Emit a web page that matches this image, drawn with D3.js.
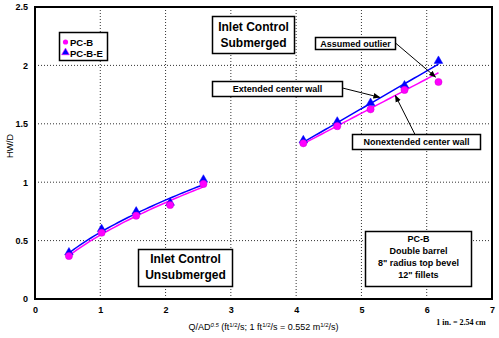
<!DOCTYPE html>
<html>
<head>
<meta charset="utf-8">
<script src="https://cdn.jsdelivr.net/npm/d3@7"></script>
<style>
  html, body { margin: 0; padding: 0; background: #fff; }
  svg { display: block; font-family: "Liberation Sans", Arial, sans-serif; }
</style>
</head>
<body>
<svg id="chart" width="499" height="338"></svg>
<script>
// Inlet control, unsubmerged range
const unsubQ   = [0.52, 1.02, 1.55, 2.07, 2.58];
const unsubPCB  = [0.368, 0.567, 0.713, 0.805, 0.985];
const unsubPCBE = [0.39, 0.59, 0.74, 0.815, 1.013];

// Inlet control, submerged range
const subQ     = [4.11, 4.63, 5.14, 5.66, 6.18];
const subPCB   = [1.333, 1.48, 1.624, 1.79, 1.858];   // last point is the assumed outlier
const subPCBE  = [1.35, 1.51, 1.67, 1.82, 2.03];

const xTicks = [0, 1, 2, 3, 4, 5, 6, 7];
const yTicks = [0, 0.5, 1, 1.5, 2, 2.5];
const seriesNames = ["PC-B", "PC-B-E"];

const MAGENTA = "#ff00ff", BLUE = "#0000ff";

const svg = d3.select("#chart");
const L = 35, R = 492, T = 7, B = 299;
const x = d3.scaleLinear().domain([0, 7]).range([L, R]);
const y = d3.scaleLinear().domain([0, 2.5]).range([B, T]);

// grid
const grid = svg.append("g").attr("stroke", "#333").attr("stroke-width", 1)
  .attr("stroke-dasharray", "1,2");
xTicks.slice(1, -1).forEach(v => grid.append("line")
  .attr("x1", x(v)).attr("x2", x(v)).attr("y1", T).attr("y2", B));
yTicks.slice(1, -1).forEach(v => grid.append("line")
  .attr("x1", L).attr("x2", R).attr("y1", y(v)).attr("y2", y(v)));

// axes
const xAxis = d3.axisBottom(x).tickValues(xTicks).tickSize(0).tickPadding(8)
  .tickFormat(d3.format("d"));
const yAxis = d3.axisLeft(y).tickValues(yTicks).tickSize(0).tickPadding(7)
  .tickFormat(d => String(d));
const gx = svg.append("g").attr("transform", `translate(0,${B})`).call(xAxis);
const gy = svg.append("g").attr("transform", `translate(${L},0)`).call(yAxis);
[gx, gy].forEach(g => {
  g.select(".domain").remove();
  g.selectAll("text").attr("font-size", 9).attr("font-weight", "bold")
    .attr("fill", "#000").attr("font-family", "Liberation Sans, Arial, sans-serif");
});

// plot frame
svg.append("rect").attr("x", L).attr("y", T).attr("width", R - L).attr("height", B - T)
  .attr("fill", "none").attr("stroke", "#000").attr("stroke-width", 2);

// trend lines: power fit for unsubmerged, linear fit for submerged
function powerFit(xs, ys) {
  const lx = xs.map(Math.log), ly = ys.map(Math.log);
  const f = linearFit(lx, ly);
  return v => Math.exp(f.a + f.b * Math.log(v));
}
function linearFit(xs, ys) {
  const n = xs.length, mx = d3.mean(xs), my = d3.mean(ys);
  let sxy = 0, sxx = 0;
  for (let i = 0; i < n; i++) { sxy += (xs[i] - mx) * (ys[i] - my); sxx += (xs[i] - mx) ** 2; }
  const b = sxy / sxx;
  const fn = v => my - b * mx + b * v;
  fn.a = my - b * mx; fn.b = b;
  return fn;
}
function drawFit(fn, x0, x1, color) {
  const pts = d3.range(0, 41).map(i => x0 + (x1 - x0) * i / 40);
  svg.append("path")
    .attr("d", d3.line().x(v => x(v)).y(v => y(fn(v)))(pts))
    .attr("fill", "none").attr("stroke", color).attr("stroke-width", 1.5);
}
drawFit(powerFit(unsubQ, unsubPCBE), unsubQ[0] - 0.03, unsubQ[4], BLUE);
drawFit(powerFit(unsubQ, unsubPCB), unsubQ[0] - 0.03, unsubQ[4], MAGENTA);
drawFit(linearFit(subQ, subPCBE), subQ[0] - 0.03, subQ[4], BLUE);
drawFit(linearFit(subQ.slice(0, 4), subPCB.slice(0, 4)), subQ[0] - 0.03, subQ[4], MAGENTA);

// markers
const tri = d3.symbol().type(d3.symbolTriangle).size(32);
function triangles(xs, ys) {
  xs.forEach((v, i) => svg.append("path").attr("d", tri())
    .attr("transform", `translate(${x(v)},${y(ys[i]) - 1})`)
    .attr("fill", BLUE).attr("stroke", BLUE).attr("stroke-width", 0.5));
}
function circles(xs, ys) {
  xs.forEach((v, i) => svg.append("circle").attr("cx", x(v)).attr("cy", y(ys[i]))
    .attr("r", 3.6).attr("fill", MAGENTA).attr("stroke", "#d000d0").attr("stroke-width", 0.5));
}
triangles(unsubQ, unsubPCBE);
triangles(subQ, subPCBE);
circles(unsubQ, unsubPCB);
circles(subQ, subPCB);

// legend
const lg = svg.append("g");
lg.append("rect").attr("x", 59.5).attr("y", 32.5).attr("width", 48).attr("height", 28)
  .attr("fill", "#fff").attr("stroke", "#000").attr("stroke-width", 1.5);
lg.append("circle").attr("cx", 65.5).attr("cy", 42).attr("r", 2.6).attr("fill", MAGENTA);
lg.append("path").attr("d", d3.symbol().type(d3.symbolTriangle).size(26)())
  .attr("transform", "translate(65.5,52.5)").attr("fill", BLUE)
  .attr("stroke", MAGENTA).attr("stroke-width", 0.6);
seriesNames.forEach((s, i) => lg.append("text").attr("x", 70).attr("y", 45.5 + i * 11)
  .attr("font-size", 9.5).attr("font-weight", "bold").text(s));

// annotation boxes
function box(x0, y0, w, h, lines, size, lineGap, firstBase) {
  const g = svg.append("g");
  g.append("rect").attr("x", x0).attr("y", y0).attr("width", w).attr("height", h)
    .attr("fill", "#fff").attr("stroke", "#000").attr("stroke-width", 1.5);
  lines.forEach((t, i) => g.append("text").attr("x", x0 + w / 2)
    .attr("y", firstBase + i * lineGap).attr("text-anchor", "middle")
    .attr("font-size", size).attr("font-weight", "bold").text(t));
}
box(212.5, 16.5, 82, 37, ["Inlet Control", "Submerged"], 12, 16, 30.5);
box(138.5, 249.5, 94, 37, ["Inlet Control", "Unsubmerged"], 12, 16, 263);
box(365.5, 231.5, 106, 55, ["PC-B", "Double barrel", "8\" radius top bevel", "12\" fillets"], 9, 12, 241.5);
box(315.5, 37.5, 80, 12, ["Assumed outlier"], 9, 0, 46.5);
box(212.5, 81.5, 130, 15, ["Extended center wall"], 9, 0, 92);
box(352.5, 134.5, 128, 15, ["Nonextended center wall"], 9, 0, 145);

// arrows
svg.append("defs").append("marker").attr("id", "ah").attr("viewBox", "0 0 10 10")
  .attr("refX", 9).attr("refY", 5).attr("markerWidth", 7).attr("markerHeight", 7)
  .attr("markerUnits", "userSpaceOnUse").attr("orient", "auto")
  .append("path").attr("d", "M0,1L10,5L0,9Z").attr("fill", "#000");
function arrow(x1, y1, x2, y2) {
  svg.append("line").attr("x1", x1).attr("y1", y1).attr("x2", x2).attr("y2", y2)
    .attr("stroke", "#000").attr("stroke-width", 1).attr("marker-end", "url(#ah)");
}
arrow(395.5, 43, x(6.15) - 1, y(subPCB[4]) - 5);
arrow(342.5, 88, x(5.28), y(1.735) + 1);
arrow(415, 134.5, x(5.52), y(1.75) + 1);

// axis titles
const xt = svg.append("text").attr("x", 263.5).attr("y", 330).attr("text-anchor", "middle")
  .attr("font-size", 9);
const sup = t => xt.append("tspan").attr("font-size", 6).attr("dy", -3.5).text(t);
const base = t => xt.append("tspan").attr("font-size", 9).attr("dy", 3.5).text(t);
xt.append("tspan").text("Q/AD");
sup("0.5").attr("font-style", "italic");
base(" (ft"); sup("1/2"); base("/s; 1 ft"); sup("1/2"); base("/s = 0.552 m"); sup("1/2"); base("/s)");

svg.append("text").attr("transform", "translate(13,146) rotate(-90)")
  .attr("text-anchor", "middle").attr("font-size", 9).text("HW/D");

svg.append("text").attr("x", 461).attr("y", 325).attr("text-anchor", "middle")
  .attr("font-family", "Liberation Serif, serif").attr("font-weight", "bold")
  .attr("font-size", 8).text("1 in. = 2.54 cm");
</script>
</body>
</html>
